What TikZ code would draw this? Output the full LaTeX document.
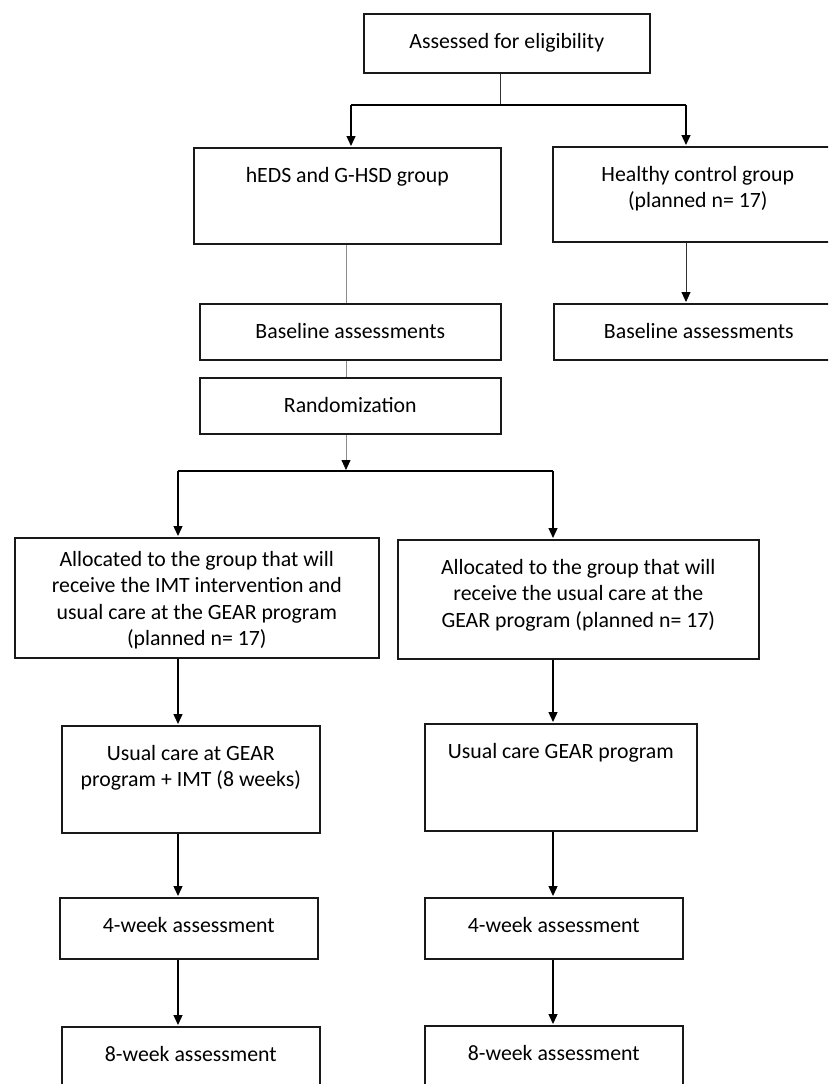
\documentclass[tikz,border=0pt]{standalone}
\usepackage{fontspec}
\setmainfont{Carlito}
\usepackage{tikz}
\usetikzlibrary{positioning, arrows.meta}
\newcommand{\boxlines}[1]{\begin{tabular}[t]{@{}c@{}}#1\end{tabular}}

\begin{document}
\begin{tikzpicture}[x=1pt, y=-1pt,
    every node/.style={font=\fontsize{21.8}{26.5}\selectfont},
    box/.style={draw=black!90, line width=1.6pt, anchor=north west, inner sep=0pt, text height=34.5pt},
    link/.style={draw=black, line width=1.3pt},
    thinlink/.style={draw=black!80, line width=0.9pt},
    greylink/.style={draw=black!45, line width=0.8pt},
    arrow/.style={-{Triangle[length=10pt, width=9pt, color=black]}, shorten >=1pt}]
    \clip (0,0) rectangle (828,1084);
    \fill[white] (0,0) rectangle (828,1084);

    \node[box, minimum width=286pt, text depth=24.5pt] (elig) at (363,13) {Assessed for eligibility};

    \node[box, minimum width=307pt, text depth=61.5pt] (heds) at (193,147) {hEDS and G-HSD group};
    \node[box, minimum width=290pt, text depth=60.5pt] (healthy) at (552,146)
      {\boxlines{Healthy control group\\(planned n= 17)}};

    \node[box, minimum width=301pt, text depth=21.5pt] (base1) at (199,303) {Baseline assessments};
    \node[box, minimum width=290pt, text depth=21.5pt] (base2) at (553,303) {Baseline assessments};
    \node[box, minimum width=301pt, text depth=21.5pt] (rand) at (199,377) {Randomization};

    \node[box, minimum width=364pt, text height=28.5pt, text depth=91.5pt] (alloc1) at (14,537)
      {\boxlines{Allocated to the group that will\\receive the IMT intervention and\\usual care at the GEAR program\\(planned n= 17)}};
    \node[box, minimum width=361pt, text depth=84.5pt] (alloc2) at (397,539)
      {\boxlines{Allocated to the group that will\\receive the usual care at the\\GEAR program (planned n= 17)}};

    \node[box, minimum width=258pt, text depth=72.5pt] (usual1) at (61,725)
      {\boxlines{Usual care at GEAR\\program + IMT (8 weeks)}};
    \node[box, minimum width=272pt, text depth=72.5pt] (usual2) at (424,723) {Usual care GEAR program};

    \node[box, minimum width=258pt, text depth=26.5pt] (wk4a) at (59,897) {4-week assessment};
    \node[box, minimum width=258pt, text depth=26.5pt] (wk4b) at (424,897) {4-week assessment};
    \node[box, minimum width=258pt, text depth=26.5pt] (wk8a) at (61,1026) {8-week assessment};
    \node[box, minimum width=258pt, text depth=26.5pt] (wk8b) at (424,1025) {8-week assessment};

    \coordinate (fork1) at (500,105);
    \coordinate (fork1L) at (351,105);
    \coordinate (fork1R) at (686,105);
    \coordinate (fork2) at (346,471);
    \coordinate (fork2L) at (178,471);
    \coordinate (fork2R) at (553,471);

    \draw[thinlink] (elig.south -| fork1) -- (fork1);
    \draw[link] (fork1L) -- (fork1R);
    \draw[link, arrow] (fork1L) -- (fork1L |- heds.north);
    \draw[link, arrow] (fork1R) -- (fork1R |- healthy.north);
    \draw[thinlink, arrow] (healthy.south -| fork1R) -- (base2.north -| fork1R);

    \draw[greylink] (heds.south -| fork2) -- (base1.north -| fork2);
    \draw[greylink] (base1.south -| fork2) -- (rand.north -| fork2);
    \draw[greylink, arrow] (rand.south -| fork2) -- (fork2);

    \draw[link] (fork2L) -- (fork2R);
    \draw[link, arrow] (fork2L) -- (alloc1.north -| fork2L);
    \draw[link, arrow] (fork2R) -- (alloc2.north -| fork2R);

    \draw[link, arrow] (alloc1.south -| fork2L) -- (usual1.north -| fork2L);
    \draw[link, arrow] (usual1.south -| fork2L) -- (wk4a.north -| fork2L);
    \draw[link, arrow] (wk4a.south -| fork2L) -- (wk8a.north -| fork2L);
    \draw[link, arrow] (alloc2.south -| fork2R) -- (usual2.north -| fork2R);
    \draw[link, arrow] (usual2.south -| fork2R) -- (wk4b.north -| fork2R);
    \draw[link, arrow] (wk4b.south -| fork2R) -- (wk8b.north -| fork2R);
  \end{tikzpicture}
\end{document}
